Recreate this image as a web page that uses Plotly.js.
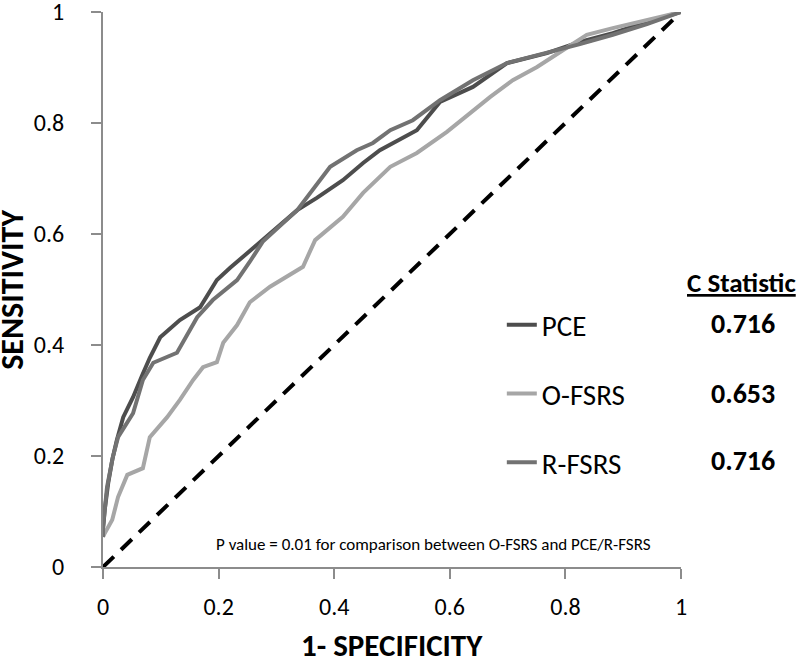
<!DOCTYPE html>
<html>
<head>
<meta charset="utf-8">
<script src="https://cdn.plot.ly/plotly-3.0.1.min.js"></script>
<style>
  html, body { margin: 0; padding: 0; background: #fff; }
  #chart { width: 800px; height: 659px; }
</style>
</head>
<body>
<div id="chart"></div>
<script>
// ROC curve data (1 - specificity, sensitivity)
var pceX = [0, 0, 0.003, 0.009, 0.016, 0.024, 0.035, 0.052, 0.068, 0.081, 0.099, 0.133, 0.168, 0.197, 0.220, 0.277, 0.336, 0.370, 0.415, 0.450, 0.479, 0.543, 0.583, 0.640, 0.699, 0.768, 0.825, 0.882, 0.941, 1];
var pceY = [0.054, 0.067, 0.103, 0.151, 0.193, 0.229, 0.270, 0.306, 0.346, 0.377, 0.414, 0.445, 0.468, 0.517, 0.539, 0.591, 0.643, 0.665, 0.697, 0.728, 0.751, 0.787, 0.838, 0.865, 0.908, 0.926, 0.946, 0.962, 0.982, 1];

var ofsrsX = [0, 0.003, 0.016, 0.026, 0.042, 0.069, 0.081, 0.111, 0.133, 0.156, 0.173, 0.197, 0.208, 0.232, 0.254, 0.289, 0.346, 0.367, 0.415, 0.450, 0.497, 0.543, 0.595, 0.635, 0.670, 0.709, 0.751, 0.791, 0.837, 0.882, 0.941, 1];
var ofsrsY = [0.054, 0.061, 0.085, 0.126, 0.166, 0.178, 0.234, 0.270, 0.301, 0.337, 0.360, 0.369, 0.404, 0.436, 0.477, 0.505, 0.541, 0.589, 0.631, 0.674, 0.721, 0.746, 0.784, 0.818, 0.847, 0.877, 0.901, 0.928, 0.959, 0.971, 0.986, 1];

var rfsrsX = [0, 0, 0.007, 0.017, 0.026, 0.052, 0.069, 0.087, 0.128, 0.163, 0.190, 0.232, 0.254, 0.277, 0.336, 0.358, 0.393, 0.439, 0.467, 0.497, 0.536, 0.583, 0.640, 0.699, 0.768, 0.825, 0.882, 0.941, 1];
var rfsrsY = [0.054, 0.072, 0.144, 0.198, 0.234, 0.277, 0.337, 0.368, 0.386, 0.450, 0.481, 0.517, 0.550, 0.587, 0.643, 0.674, 0.721, 0.751, 0.764, 0.787, 0.805, 0.841, 0.877, 0.908, 0.926, 0.942, 0.959, 0.978, 1];

var refX = [0, 1];
var refY = [0, 1];

var modelNames = ["PCE", "O-FSRS", "R-FSRS"];
var cStats = ["0.716", "0.653", "0.716"];
var tickVals = [0, 0.2, 0.4, 0.6, 0.8, 1];
var tickText = ["0", "0.2", "0.4", "0.6", "0.8", "1"];
var xTitle = "1- SPECIFICITY";
var yTitle = "SENSITIVITY";

var FONT = "Carlito, Calibri, Lato, sans-serif";
var colors = ["#4d4d4d", "#a6a6a6", "#727272"];

var traces = [
  {x: refX, y: refY, mode: "lines", showlegend: false, hoverinfo: "skip",
   line: {color: "#000", width: 4, dash: "15px,10px"}},
  {x: pceX, y: pceY, name: modelNames[0], mode: "lines", legendgroup: "a",
   line: {color: colors[0], width: 4}},
  {x: ofsrsX, y: ofsrsY, name: modelNames[1], mode: "lines", legendgroup: "b",
   line: {color: colors[1], width: 4}},
  {x: rfsrsX, y: rfsrsY, name: modelNames[2], mode: "lines", legendgroup: "c",
   line: {color: colors[2], width: 4}}
];

var statY = [0.438, 0.3135, 0.191];
var annotations = [
  // axis titles (placed as annotations so they can sit at the reference positions)
  {xref: "paper", yref: "paper", x: 0.5, y: -0.141, xanchor: "center", yanchor: "middle",
   text: "<b>" + xTitle + "</b>", showarrow: false, font: {family: FONT, size: 31, color: "#000"}},
  {xref: "paper", yref: "paper", x: -0.157, y: 0.5, xanchor: "center", yanchor: "middle", textangle: -90,
   text: "<b>" + yTitle + "</b>", showarrow: false, font: {family: FONT, size: 32, color: "#000"}},
  {xref: "paper", yref: "paper", x: 1.105, y: 0.512, xanchor: "center", yanchor: "middle",
   text: "<b><u>C Statistic</u></b>", showarrow: false, font: {family: FONT, size: 27, color: "#000"}},
  {xref: "paper", yref: "paper", x: 0.572, y: 0.041, xanchor: "center", yanchor: "middle",
   text: "P value = 0.01 for comparison between O-FSRS and PCE/R-FSRS", showarrow: false,
   font: {family: FONT, size: 17, color: "#000"}}
];
for (var i = 0; i < cStats.length; i++) {
  annotations.push({xref: "paper", yref: "paper", x: 1.107, y: statY[i], xanchor: "center", yanchor: "middle",
    text: "<b>" + cStats[i] + "</b>", showarrow: false, font: {family: FONT, size: 28, color: "#000"}});
}

var axisCommon = {
  range: [0, 1], tickvals: tickVals, ticktext: tickText,
  showgrid: false, zeroline: false, showline: true, linecolor: "#8c8c8c", linewidth: 2,
  ticks: "outside", ticklen: 10, tickwidth: 2, tickcolor: "#8c8c8c",
  tickfont: {family: FONT, size: 24, color: "#000"}, fixedrange: true,
  ticklabeloverflow: "allow"
};

var layout = {
  width: 800, height: 659,
  margin: {l: 103, r: 119, t: 12, b: 92},
  paper_bgcolor: "#fff", plot_bgcolor: "#fff",
  xaxis: Object.assign({}, axisCommon, {ticklabelstandoff: 7}),
  yaxis: Object.assign({}, axisCommon, {ticklabelstandoff: 22}),
  showlegend: true,
  legend: {x: 0.69, y: 0.482, xanchor: "left", yanchor: "top", bgcolor: "rgba(0,0,0,0)",
    font: {family: FONT, size: 29, color: "#000"}, tracegroupgap: 28, itemwidth: 30},
  annotations: annotations
};

Plotly.newPlot("chart", traces, layout, {displayModeBar: false, staticPlot: true});
</script>
</body>
</html>
